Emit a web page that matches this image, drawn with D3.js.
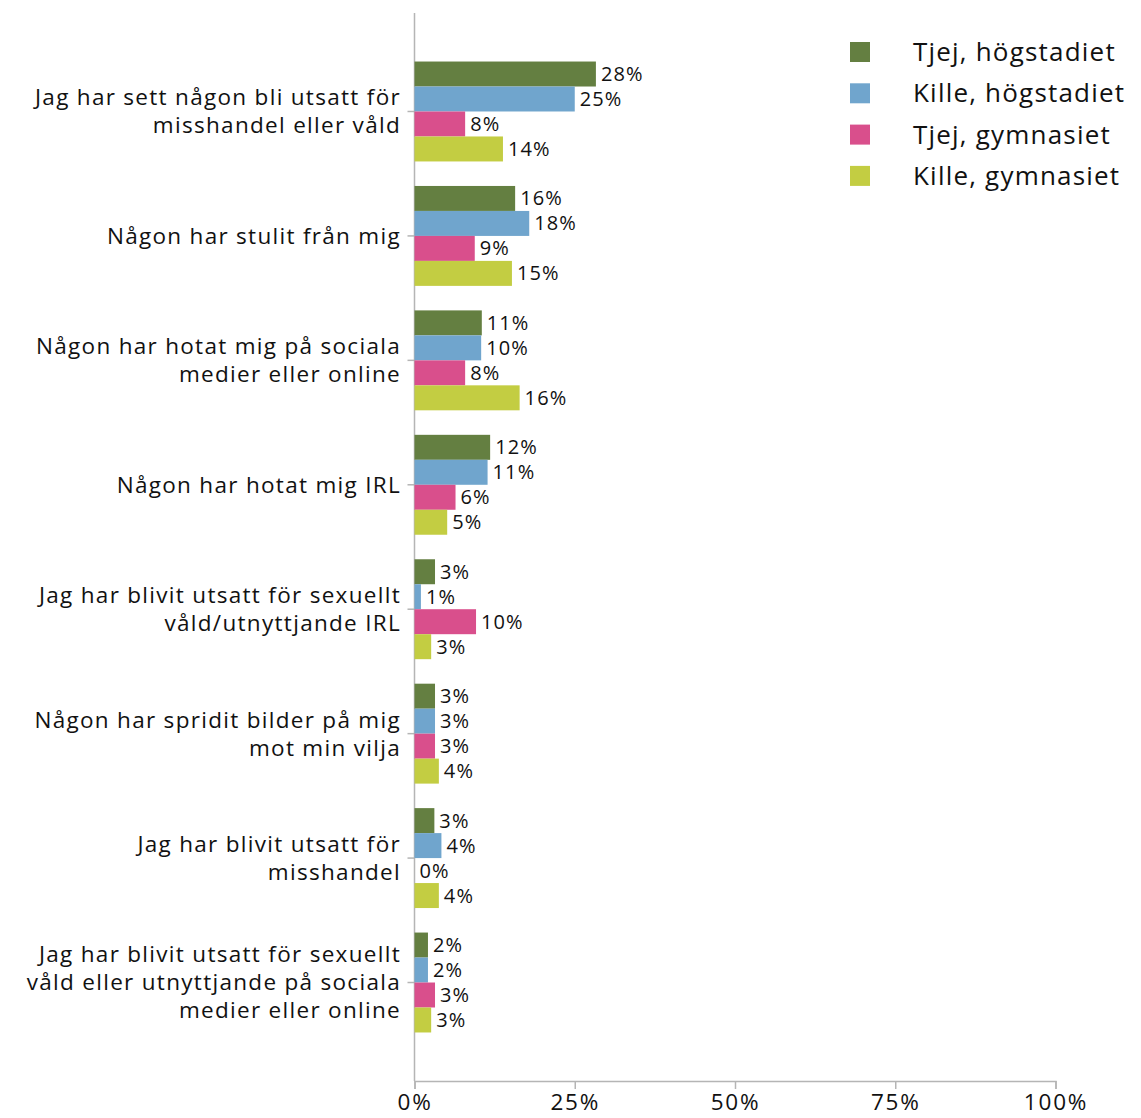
<!DOCTYPE html>
<html>
<head>
<meta charset="utf-8">
<script src="https://cdn.jsdelivr.net/npm/d3@7"></script>
<style>
  body { margin: 0; background: #fff; }
  svg { font-family: "Open Sans", sans-serif; }
</style>
</head>
<body>
<svg id="chart" width="1141" height="1118"></svg>
<script>
// categories, each line break marked with |
const categories = [
  'Jag har sett någon bli utsatt för|misshandel eller våld',
  'Någon har stulit från mig',
  'Någon har hotat mig på sociala|medier eller online',
  'Någon har hotat mig IRL',
  'Jag har blivit utsatt för sexuellt|våld/utnyttjande IRL',
  'Någon har spridit bilder på mig|mot min vilja',
  'Jag har blivit utsatt för|misshandel',
  'Jag har blivit utsatt för sexuellt|våld eller utnyttjande på sociala|medier eller online',
];

const seriesNames = ['Tjej, högstadiet', 'Kille, högstadiet', 'Tjej, gymnasiet', 'Kille, gymnasiet'];
const seriesColors = ['#647f41', '#70a5cd', '#d94f8c', '#c3cd42'];

// values per series, in category order (percent)
const tjejHog  = [28.3, 15.7, 10.5, 11.8, 3.2, 3.2, 3.1, 2.1];
const killeHog = [25.0, 17.9, 10.4, 11.4, 1.0, 3.2, 4.2, 2.1];
const tjejGym  = [7.9, 9.4, 7.9, 6.4, 9.6, 3.2, 0.0, 3.2];
const killeGym = [13.8, 15.2, 16.4, 5.1, 2.6, 3.8, 3.8, 2.6];
const series = [tjejHog, killeHog, tjejGym, killeGym];

const xTicks = [0, 25, 50, 75, 100];

const svg = d3.select('#chart');

const x = d3.scaleLinear().domain([0, 100]).range([414.5, 1055.5]);
const y = d3.scaleBand().domain(d3.range(categories.length))
  .range([13, 1081]).paddingInner(0.197).paddingOuter(0.39);
const ySub = d3.scaleBand().domain(d3.range(series.length)).range([0, y.bandwidth()]);

// x axis
const xAxis = svg.append('g').attr('transform', 'translate(0,1081)')
  .call(d3.axisBottom(x).tickValues(xTicks).tickFormat(d => d + '%').tickSize(8).tickPadding(5));
xAxis.select('.domain').attr('stroke', '#b5b5b5').attr('stroke-width', 1.5);
xAxis.selectAll('.tick line').attr('stroke', '#b5b5b5').attr('stroke-width', 1.5);
xAxis.selectAll('.tick text').attr('font-size', 22.5).attr('fill', '#111')
  .attr('font-family', '"Open Sans", sans-serif').attr('letter-spacing', 1.8);

// y axis
const yAxis = svg.append('g').attr('transform', 'translate(414.5,0)')
  .call(d3.axisLeft(y).tickSize(7).tickFormat(''));
yAxis.select('.domain').attr('d', 'M0,13V1081').attr('stroke', '#b5b5b5').attr('stroke-width', 1.5);
yAxis.selectAll('.tick line').attr('stroke', '#b5b5b5').attr('stroke-width', 1.5);

// category labels
const lineH = 28;
categories.forEach((c, i) => {
  const lines = c.split('|');
  const cy = y(i) + y.bandwidth() / 2;
  const t = svg.append('text').attr('text-anchor', 'end').attr('font-size', 22.5)
    .attr('letter-spacing', 1.3).attr('fill', '#111');
  lines.forEach((l, j) => {
    t.append('tspan').attr('x', 401)
      .attr('y', cy + (j - (lines.length - 1) / 2) * lineH)
      .attr('dy', '0.35em').text(l);
  });
});

// bars
series.forEach((vals, s) => {
  const g = svg.append('g');
  g.selectAll('rect').data(vals).join('rect')
    .attr('x', x(0))
    .attr('y', (d, i) => y(i) + ySub(s))
    .attr('width', d => x(d) - x(0))
    .attr('height', ySub.bandwidth())
    .attr('fill', seriesColors[s]);
  g.selectAll('text').data(vals).join('text')
    .attr('x', d => x(d) + 5)
    .attr('y', (d, i) => y(i) + ySub(s) + ySub.bandwidth() / 2)
    .attr('dy', '0.35em')
    .attr('font-size', 20)
    .attr('letter-spacing', 1.1)
    .attr('fill', '#111')
    .text(d => Math.round(d) + '%');
});

// legend
const legend = svg.append('g').attr('transform', 'translate(850,52)');
seriesNames.forEach((n, i) => {
  const row = legend.append('g').attr('transform', `translate(0,${i * 41.3})`);
  row.append('rect').attr('x', 0).attr('y', -10).attr('width', 20).attr('height', 20).attr('fill', seriesColors[i]);
  row.append('text').attr('x', 63).attr('dy', '0.35em').attr('font-size', 26)
    .attr('letter-spacing', 1.2).attr('fill', '#111').text(n);
});
</script>
</body>
</html>
